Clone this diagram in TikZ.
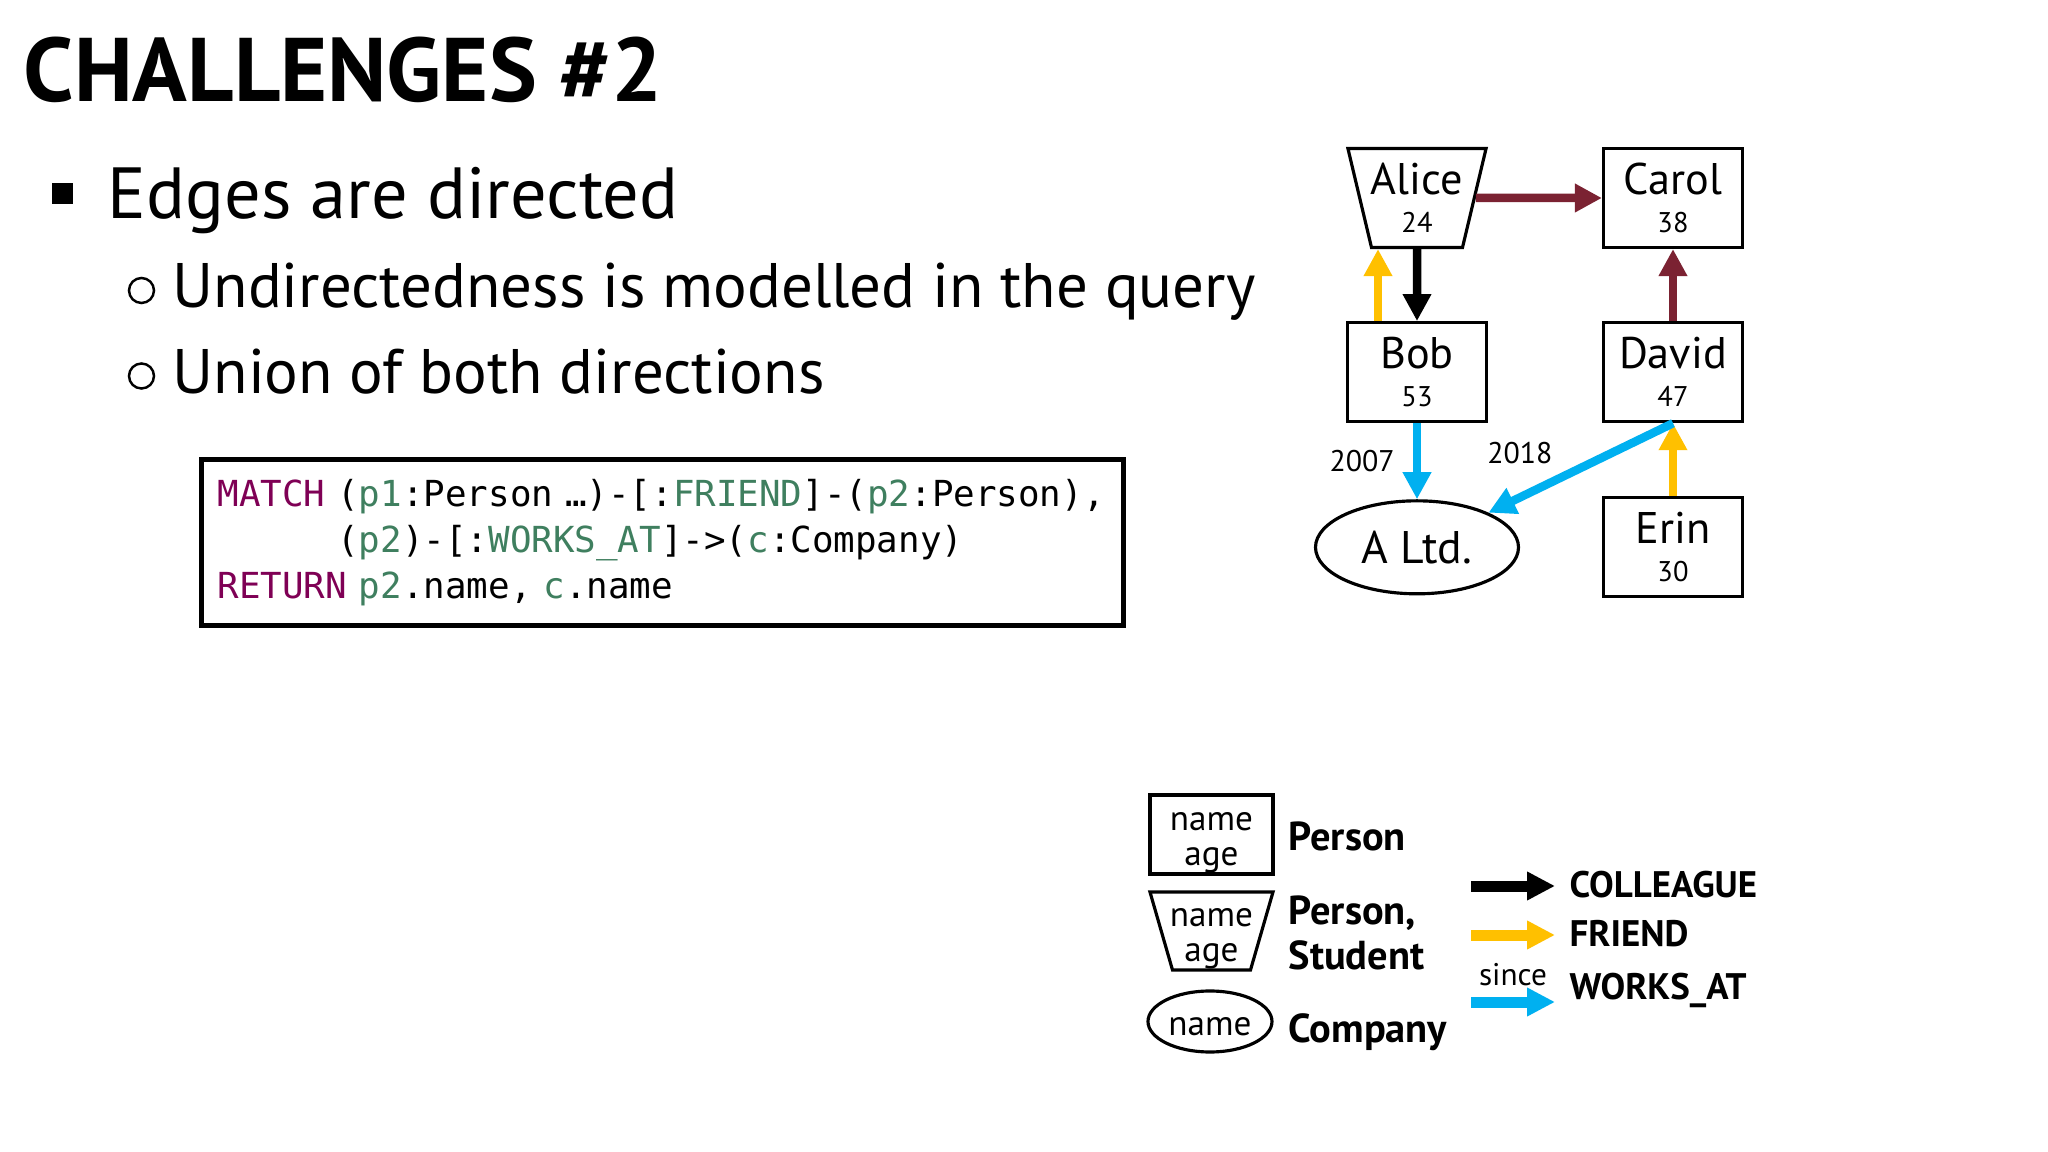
\documentclass[tikz,border=0pt]{standalone}
\usepackage{fontspec}
\setmainfont{PT Sans}
\setmonofont{DejaVu Sans Mono}
\usetikzlibrary{positioning,shapes.geometric,arrows.meta}

\definecolor{kwpurple}{HTML}{7F0055}
\definecolor{idgreen}{HTML}{3F7F5F}
\definecolor{relmaroon}{HTML}{7B2232}
\definecolor{friendyellow}{HTML}{FFC000}
\definecolor{workblue}{HTML}{00B0F0}

\newcommand{\cykw}[1]{\textcolor{kwpurple}{#1}}
\newcommand{\cyvar}[1]{\textcolor{idgreen}{#1}}
\newcommand{\pname}[2]{#1\\{\fontsize{8.1}{10.8}\selectfont #2}}

\tikzset{
  person/.style={draw, line width=0.9pt, minimum width=1.39cm, minimum height=0.99cm,
    align=center, inner sep=0pt, font=\fontsize{12.6}{10.8}\selectfont},
  student/.style={draw, line width=0.9pt, trapezium, shape border rotate=180, inner sep=0pt,
    trapezium stretches=true, trapezium angle=76.6, text width=0.91cm, text height=0.99cm, text depth=0pt},
  company/.style={draw, ellipse, line width=0.9pt, minimum width=2.03cm,
    minimum height=0.93cm, inner sep=0pt, font=\fontsize{13}{13}\selectfont},
  nodetext/.style={align=center, inner sep=0pt, font=\fontsize{12.6}{10.8}\selectfont},
  legname/.style={align=center, inner sep=0pt, yshift=-0.08cm, font=\fontsize{10}{9.9}\selectfont},
  edgebase/.style={line width=0.085cm, -{Triangle[length=0.27cm,width=0.27cm]}},
  colleague/.style={edgebase, black},
  friend/.style={edgebase, friendyellow},
  worksat/.style={edgebase, workblue},
  relother/.style={edgebase, relmaroon},
  legarrow/.style={line width=0.11cm, -{Triangle[length=0.28cm,width=0.27cm]}},
  year/.style={font=\fontsize{8.5}{9}\selectfont, inner sep=0pt, black},
  slidetext/.style={anchor=base west, inner sep=0pt},
  legtext/.style={inner sep=0pt, font=\fontsize{11.5}{12.8}\selectfont\bfseries, align=left},
  keytext/.style={inner sep=0pt, anchor=base west, font=\fontsize{10.5}{11}\selectfont\bfseries},
}

\begin{document}
\begin{tikzpicture}[node distance=0.72cm]
    \path[fill=white, use as bounding box] (0,0) rectangle (20.48,-11.52);

    % title and bullets
    \node[slidetext, font=\fontsize{25.7}{30}\selectfont\bfseries] (title) at (0.23,-1.02) {CHALLENGES \#2};
    \node[fill=black, minimum size=0.21cm, inner sep=0pt] (sq) at (0.625,-1.935) {};
    \node[slidetext, font=\fontsize{20.6}{24}\selectfont] (edges) at (1.07,-2.19) {Edges are directed};
    \node[circle, draw, line width=0.7pt, minimum size=0.25cm, inner sep=0pt] (dot1) at (1.415,-2.905) {};
    \node[slidetext, font=\fontsize{17.9}{22}\selectfont] (undir) at (1.72,-3.08) {Undirectedness is modelled in the query};
    \node[circle, draw, line width=0.7pt, minimum size=0.25cm, inner sep=0pt] (dot2) at (1.415,-3.76) {};
    \node[slidetext, font=\fontsize{17.9}{22}\selectfont] (union) at (1.72,-3.94) {Union of both directions};

    % query
    \node[draw, line width=0.05cm, anchor=north west, minimum width=9.22cm, minimum height=1.66cm,
          text width=8.90cm, inner xsep=0.16cm, align=left,
          font=\ttfamily\fontsize{10.2}{13}\selectfont] (query) at (1.99,-4.57)
        {\cykw{MATCH} (\cyvar{p1}:Person …)-[:\cyvar{FRIEND}]-(\cyvar{p2}:Person),\\
         \phantom{MATCH }(\cyvar{p2})-[:\cyvar{WORKS\_AT}]->(\cyvar{c}:Company)\\
         \cykw{RETURN} \cyvar{p2}.name, \cyvar{c}.name};

    % graph
    \node[student, label={[nodetext]center:\pname{Alice}{24}}] (alice) at (14.17,-1.98) {};
    \node[person] (carol) [right=1.26cm of alice] {\pname{Carol}{38}};
    \node[person] (bob)   [below=of alice] {\pname{Bob}{53}};
    \node[person] (david) [below=of carol] {\pname{David}{47}};
    \node[person] (erin)  [below=0.73cm of david] {\pname{Erin}{30}};
    \node[company] (altd) [below=0.76cm of bob] {A Ltd.};

    \draw[relother] (alice) -- (carol);
    \draw[colleague] (alice) -- (bob);
    \draw[friend] ([xshift=-0.39cm]bob.north) -- ([xshift=-0.39cm]bob.north |- alice.south);
    \draw[relother] (david) -- (carol);
    \draw[friend] (erin) -- (david);
    \draw[worksat] (bob) -- node[year, left=0.18cm] {2007} (altd);
    \draw[worksat] (david.south) -- node[year, pos=0.83, above=0.29cm] {2018} (altd);

    % legend
    \node[person, minimum width=1.23cm, minimum height=0.79cm,
        label={[legname]center:name\\age}] (lperson) at (12.115,-8.345) {};
    \node[student, text width=0.78cm, text height=0.78cm, trapezium angle=73.9,
        label={[legname]center:name\\age}] (lstudent) at (12.115,-9.31) {};
    \node[company, minimum width=1.24cm, minimum height=0.61cm,
        label={[legname, yshift=0.03cm]center:name}] (lcompany) at (12.10,-10.215) {};
    \node[legtext, anchor=base west] (tperson) at (12.88,-8.50) {Person};
    \node[legtext, anchor=west] (tstudent) at (12.88,-9.33) {Person,\\Student};
    \node[legtext, anchor=base west] (tcompany) at (12.88,-10.42) {Company};

    \coordinate (colA) at (14.71,-8.86);
    \coordinate (colB) at (15.55,-8.86);
    \coordinate (friA) at (14.71,-9.35);
    \coordinate (friB) at (15.55,-9.35);
    \coordinate (worA) at (14.71,-10.02);
    \coordinate (worB) at (15.55,-10.02);
    \draw[legarrow, black] (colA) -- (colB);
    \draw[legarrow, friendyellow] (friA) -- (friB);
    \draw[legarrow, workblue] (worA) -- node[year, above=0.11cm, font=\fontsize{8.9}{9}\selectfont] {since} (worB);
    \node[keytext] (tcol) at (15.69,-8.98) {COLLEAGUE};
    \node[keytext] (tfri) at (15.69,-9.47) {FRIEND};
    \node[keytext] (twor) at (15.69,-9.99) {WORKS\_AT};
\end{tikzpicture}
\end{document}
